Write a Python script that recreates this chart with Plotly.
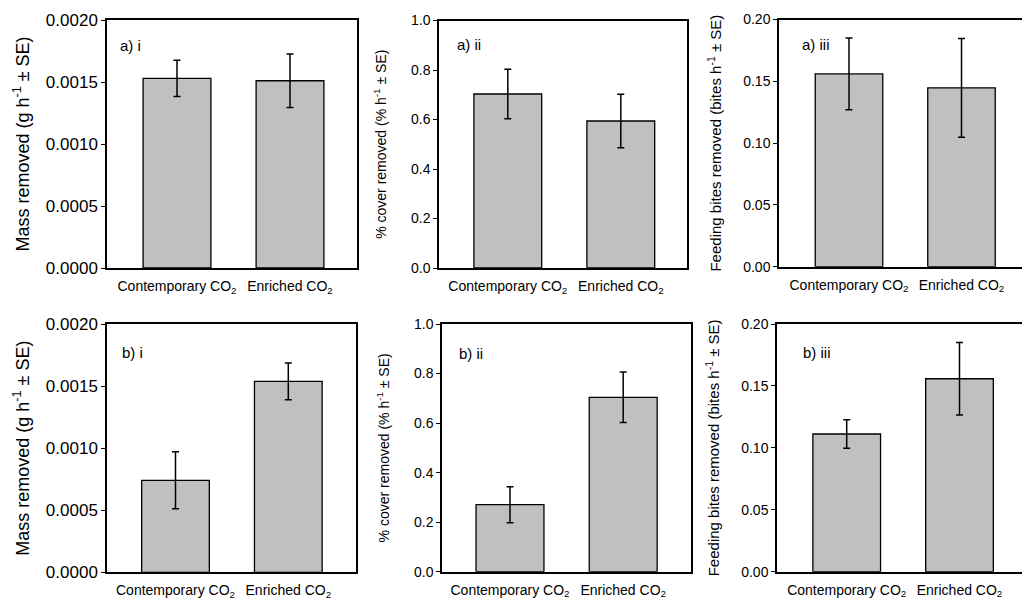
import plotly.graph_objects as go

# ---- data ----
categories = ["Contemporary CO<sub>2</sub>", "Enriched CO<sub>2</sub>"]

mass_a = [0.00153, 0.00151]
mass_a_se = [0.000146, 0.000215]
cover_a = [0.703, 0.594]
cover_a_se = [0.100, 0.108]
bites_a = [0.156, 0.1447]
bites_a_se = [0.029, 0.040]

mass_b = [0.000741, 0.001538]
mass_b_se = [0.00023, 0.000148]
cover_b = [0.2705, 0.704]
cover_b_se = [0.0725, 0.102]
bites_b = [0.1112, 0.1558]
bites_b_se = [0.0115, 0.0293]

panel_labels = ["a) i", "a) ii", "a) iii", "b) i", "b) ii", "b) iii"]
y_titles = ["Mass removed (g h<sup>-1</sup> ± SE)",
            "% cover removed (% h<sup>-1</sup> ± SE)",
            "Feeding bites removed (bites h<sup>-1</sup> ± SE)"]
y_ranges = [[0, 0.002], [0, 1.0], [0, 0.2]]
y_dticks = [0.0005, 0.2, 0.05]
y_formats = [".4f", ".1f", ".2f"]

W, H = 1022, 602
# panel boxes in pixels: (left, right, top, bottom, centre1, centre2)
boxes = [
    (107, 357, 20, 268, 177, 290),
    (439, 687, 20.5, 268, 507.8, 620.8),
    (779, 1022, 19.5, 266.7, 849, 961.5),
    (107, 356, 324, 572.3, 175.5, 288.3),
    (442, 691, 324, 571.7, 510, 623.2),
    (777, 1022, 324, 571.7, 846.7, 959.5),
]
label_pos = [(118, 46), (455, 45), (800, 45), (120, 352), (457, 353), (801, 352)]
tick_fonts = [17, 14, 14]
title_fonts = [18, 14, 15]
title_standoff = [12, 21, 18]

series = [(mass_a, mass_a_se), (cover_a, cover_a_se), (bites_a, bites_a_se),
          (mass_b, mass_b_se), (cover_b, cover_b_se), (bites_b, bites_b_se)]

fig = go.Figure()
layout = dict(
    width=W, height=H, margin=dict(l=0, r=0, t=0, b=0, pad=0),
    paper_bgcolor="white", plot_bgcolor="white", showlegend=False,
    font=dict(family="Liberation Sans, Arial, sans-serif", color="black"),
    annotations=[],
)

for i, (vals, se) in enumerate(series):
    n = i + 1
    col = i % 3
    l, r, t, b, c1, c2 = boxes[i]
    scale = c2 - c1
    xr = [(l - c1) / scale, 1 + (r - c2) / scale]
    xname = "x" if n == 1 else f"x{n}"
    yname = "y" if n == 1 else f"y{n}"
    fig.add_trace(go.Bar(
        x=categories, y=vals, width=0.6,
        marker=dict(color="#c0c0c0", line=dict(color="black", width=1.3)),
        error_y=dict(type="data", array=se, visible=True, color="black",
                     thickness=1.5, width=3.5),
        xaxis=xname, yaxis=yname,
    ))
    layout["xaxis" if n == 1 else f"xaxis{n}"] = dict(
        domain=[l / W, r / W], anchor=yname, range=xr,
        showline=True, linecolor="black", linewidth=2, mirror=True,
        showgrid=False, ticks="outside", ticklen=4, tickcolor="rgba(0,0,0,0)",
        zeroline=False, tickfont=dict(size=14), fixedrange=True,
        automargin=False,
    )
    layout["yaxis" if n == 1 else f"yaxis{n}"] = dict(
        domain=[1 - b / H, 1 - t / H], anchor=xname, range=y_ranges[col],
        dtick=y_dticks[col], tick0=0, tickformat=y_formats[col],
        showline=True, linecolor="black", linewidth=1.5, mirror=(col != 2),
        showgrid=False, zeroline=False, ticks="outside", ticklen=4,
        tickwidth=1.3, tickcolor="black", automargin=False,
        tickfont=dict(size=tick_fonts[col]),
        title=dict(text=y_titles[col], font=dict(size=title_fonts[col]),
                   standoff=title_standoff[col]),
    )
    lx, ly = label_pos[i]
    layout["annotations"].append(dict(
        text=panel_labels[i], x=lx / W, y=1 - ly / H, xref="paper", yref="paper",
        xanchor="left", yanchor="middle", showarrow=False, font=dict(size=15),
    ))

fig.update_layout(**layout)

post = (
    "var st=document.createElement('style');"
    "st.innerHTML='html,body{margin:0;padding:0;overflow:hidden;width:1022px;height:602px}"
    ".plotly-graph-div{position:absolute;left:0;top:0}';"
    "document.head.appendChild(st);"
)
fig.write_html("out.html", config={"displayModeBar": False}, post_script=post)
